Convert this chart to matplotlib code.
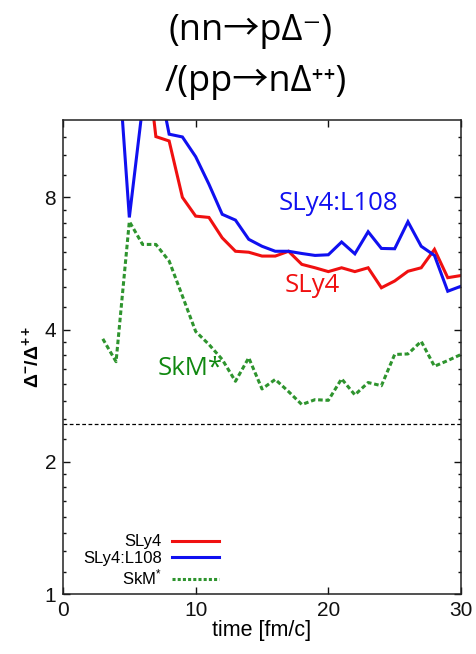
import matplotlib
matplotlib.use("Agg")
import matplotlib.pyplot as plt
from matplotlib.ticker import FixedLocator, NullFormatter, FixedFormatter
from matplotlib.lines import Line2D

# Delta-/Delta++ ratio versus time for three Skyrme parametrisations
t_sly4 = [6, 7, 8, 9, 10, 11, 12, 13, 14, 15, 16, 17, 18, 19, 20,
          21, 22, 23, 24, 25, 26, 27, 28, 29, 30]
ratio_sly4 = [20.0, 11.0, 10.75, 8.0, 7.25, 7.2, 6.47, 6.03, 6.0, 5.88,
              5.88, 6.03, 5.63, 5.53, 5.42, 5.53, 5.42, 5.53, 4.98, 5.16,
              5.43, 5.53, 6.09, 5.25, 5.31]

t_l108 = [4, 5, 6, 7, 8, 9, 10, 11, 12, 13, 14, 15, 16, 17, 18, 19, 20,
          21, 22, 23, 24, 25, 26, 27, 28, 29, 30]
ratio_l108 = [19.3, 7.2, 12.9, 15.8, 11.14, 10.98, 9.9, 8.57, 7.32, 7.1,
              6.42, 6.19, 6.03, 6.03, 5.96, 5.9, 5.92, 6.33, 5.95, 6.68,
              6.12, 6.11, 7.04, 6.19, 5.9, 4.89, 5.02]

t_skm = [3, 4, 5, 6, 7, 8, 9, 10, 11, 12, 13, 14, 15, 16, 17, 18, 19, 20,
         21, 22, 23, 24, 25, 26, 27, 28, 29, 30]
ratio_skm = [3.81, 3.38, 7.05, 6.25, 6.25, 5.73, 4.77, 3.96, 3.70, 3.42,
             3.05, 3.45, 2.93, 3.08, 2.89, 2.70, 2.77, 2.76, 3.09, 2.84,
             3.03, 2.98, 3.51, 3.52, 3.76, 3.30, 3.40, 3.51]

reference_ratio = 2.44

series_names = ["SLy4", "SLy4:L108", "SkM*"]
legend_names = ["SLy4", "SLy4:L108", "SkM$^{*}$"]
x_ticks = [0, 10, 20, 30]
y_ticks = [1, 2, 4, 8]
y_tick_labels = ["1", "2", "4", "8"]

RED = "#f01010"
BLUE = "#1010f0"
GREEN = "#2e942e"
GREEN_TXT = "#108810"

W, H = 477, 654
fig = plt.figure(figsize=(W / 100, H / 100), dpi=100)

plt.rcParams["mathtext.fontset"] = "custom"
plt.rcParams["mathtext.rm"] = "Liberation Sans"
plt.rcParams["mathtext.bf"] = "Liberation Sans:bold"
plt.rcParams["mathtext.it"] = "Liberation Sans"

left, right, top, bottom = 63, 461, 120, 594
ax = fig.add_axes([left / W, 1 - bottom / H, (right - left) / W, (bottom - top) / H])

ax.plot(t_sly4, ratio_sly4, color=RED, lw=2.2, solid_joinstyle="miter")
ax.plot(t_l108, ratio_l108, color=BLUE, lw=2.2, solid_joinstyle="miter")
ax.plot(t_skm, ratio_skm, color=GREEN, lw=2.2, dashes=(1.5, 0.9))
ax.axhline(reference_ratio, color="black", lw=0.9, dashes=(3, 2))

ax.set_yscale("log", base=2)
ax.set_xlim(0, 30)
ax.set_ylim(1, 12)

ax.xaxis.set_major_locator(FixedLocator(x_ticks))
ax.yaxis.set_major_locator(FixedLocator(y_ticks))
ax.yaxis.set_major_formatter(FixedFormatter(y_tick_labels))
minor = []
for base in [1, 2, 4]:
    minor += [base * (1 + j / 8) for j in range(1, 8)]
minor += [9, 10, 11]
ax.yaxis.set_minor_locator(FixedLocator(minor))
ax.yaxis.set_minor_formatter(NullFormatter())

ax.tick_params(which="both", direction="in", top=True, right=True,
               labelsize=15, pad=5, width=1.0, colors="#111111")
ax.tick_params(which="major", length=5)
ax.tick_params(which="minor", length=2.5)
for lab in ax.get_xticklabels() + ax.get_yticklabels():
    lab.set_fontfamily("Liberation Sans")
for sp in ax.spines.values():
    sp.set_linewidth(1.1)
    sp.set_color("#222222")

ax.set_xlabel("time [fm/c]", fontsize=15.5, family="Liberation Sans", labelpad=0)
ax.set_ylabel(r"$\mathbf{\Delta^{-}/\Delta^{++}}$", fontsize=14, labelpad=2)

handles = [Line2D([], [], color=RED, lw=2.2),
           Line2D([], [], color=BLUE, lw=2.2),
           Line2D([], [], color=GREEN, lw=2.2, dashes=(1.0, 0.7))]
leg = fig.legend(handles, legend_names, loc="center right",
                 bbox_to_anchor=(227 / W, 1 - 561 / H), frameon=False,
                 markerfirst=False, borderpad=0, handlelength=2.8,
                 handletextpad=0.6, labelspacing=0.1,
                 prop={"family": "Liberation Sans", "size": 12})

title_font = ["Open Sans", "Noto Sans CJK JP", "DejaVu Sans"]
fig.text(169 / W, 1 - 40 / H, "(nn\u2192p\u0394\u207b)", fontsize=26,
         family=title_font, ha="left", va="baseline")
fig.text(165 / W, 1 - 91 / H, "/(pp\u2192n\u0394\u207a\u207a)", fontsize=26,
         family=title_font, ha="left", va="baseline")

label_font = ["Open Sans", "DejaVu Sans"]
fig.text(279 / W, 1 - 210 / H, series_names[1], color=BLUE, fontsize=18.5,
         family=label_font, ha="left", va="baseline")
fig.text(285 / W, 1 - 291.7 / H, series_names[0], color=RED, fontsize=18.5,
         family=label_font, ha="left", va="baseline")
fig.text(158 / W, 1 - 375 / H, series_names[2], color=GREEN_TXT, fontsize=18.5,
         family=label_font, ha="left", va="baseline")

fig.savefig("out.png", dpi=100)
